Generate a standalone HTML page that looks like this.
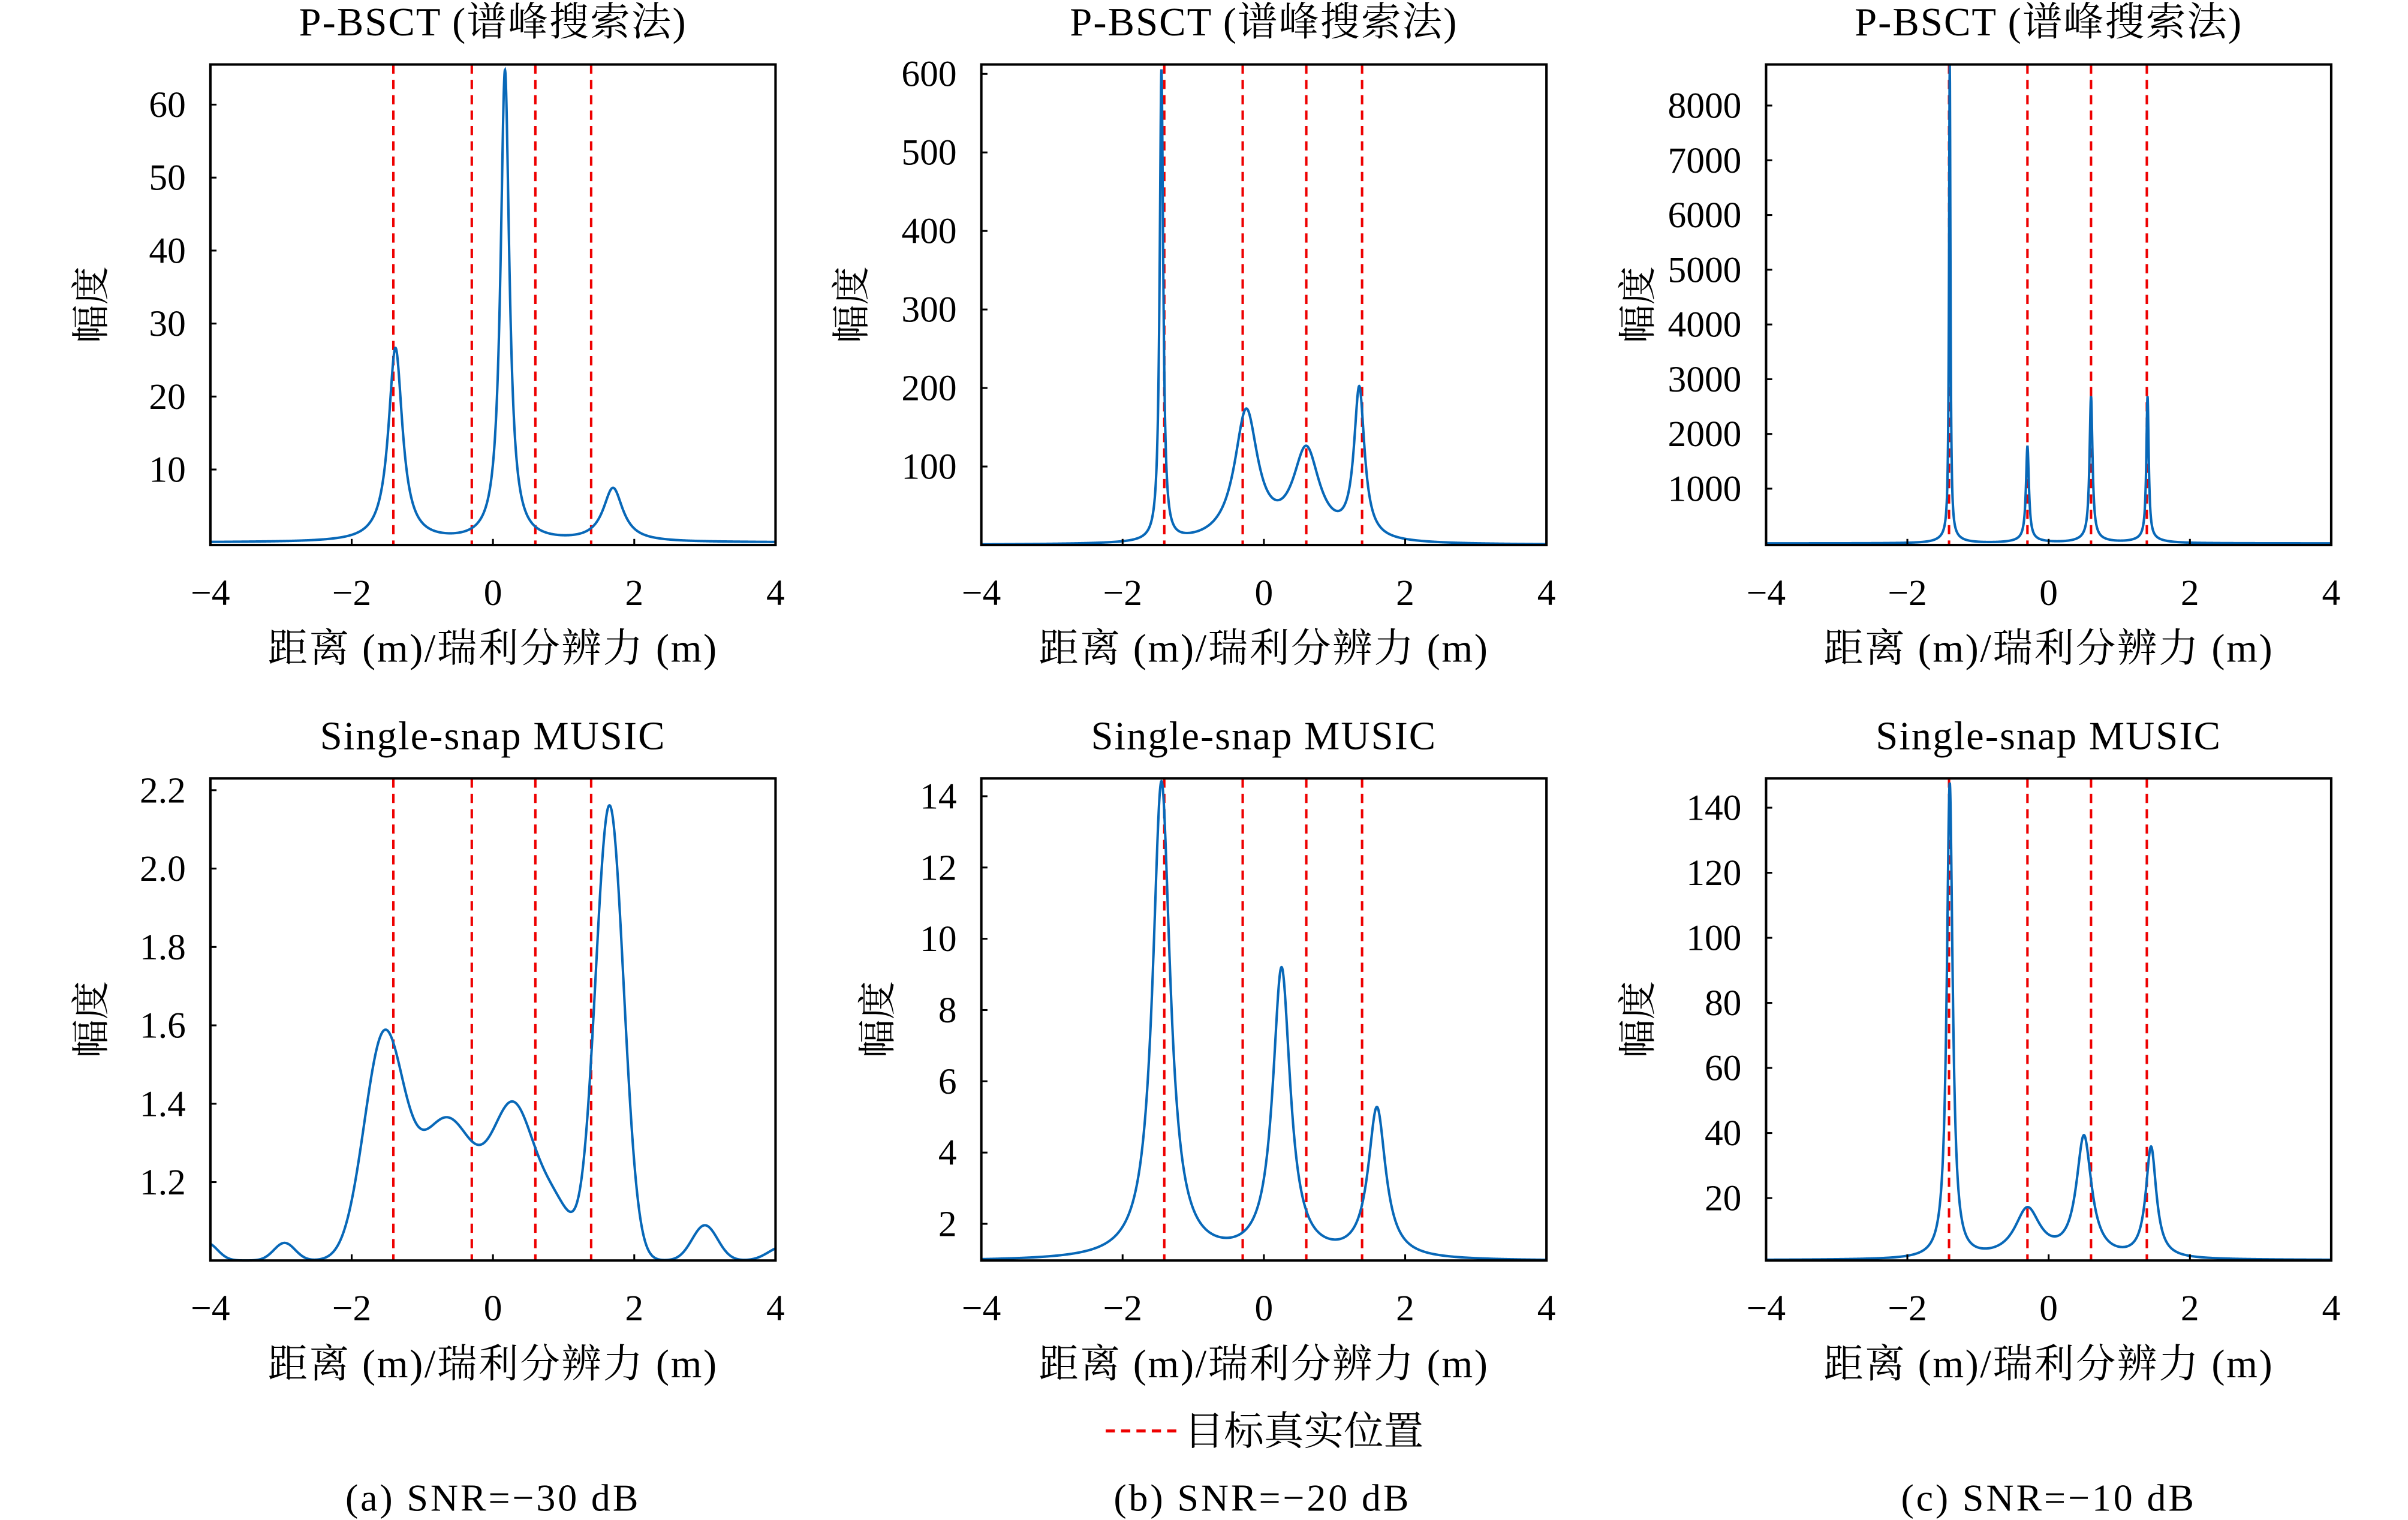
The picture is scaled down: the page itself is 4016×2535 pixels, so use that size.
<!DOCTYPE html>
<html><head><meta charset="utf-8"><style>html,body{margin:0;padding:0;background:#fff}svg{display:block}</style></head>
<body>
<svg id="s" xmlns="http://www.w3.org/2000/svg" width="4016" height="2535" viewBox="0 0 1568 990" preserveAspectRatio="none" font-family="'Liberation Serif','Noto Serif CJK SC',serif">
<rect width="1568" height="990" fill="#fff"/>
<g id="g"></g>
<line x1="720" y1="932" x2="766" y2="932" stroke="#e00" stroke-width="2" stroke-dasharray="6,4"/>
<text x="771" y="941" font-size="26">目标真实位置</text>
<text x="321" y="984" font-size="25" letter-spacing="1.5" text-anchor="middle">(a) SNR=−30 dB</text>
<text x="822" y="984" font-size="25" letter-spacing="1.5" text-anchor="middle">(b) SNR=−20 dB</text>
<text x="1334" y="984" font-size="25" letter-spacing="1.5" text-anchor="middle">(c) SNR=−10 dB</text>
</svg>
<script>
const L=(c,h,w)=>x=>h/(1+((x-c)/w)**2);
const G=(c,h,w)=>x=>h*Math.exp(-0.5*((x-c)/w)**2);
const P=[
 {x0:137,y0:42,y1:355,v0:-0.35,v1:65.5,yl:69,ticks:[10,20,30,40,50,60],title:"P-BSCT (谱峰搜索法)",
  f:[L(-1.38,26.5,0.12),L(0.17,64.5,0.075),L(1.7,7.3,0.17)],base:0},
 {x0:639,y0:42,y1:355,v0:0,v1:612,yl:76,ticks:[100,200,300,400,500,600],title:"P-BSCT (谱峰搜索法)",
  f:[L(-1.45,600,0.03),L(-0.25,165,0.2),L(0.6,115,0.23),L(1.35,190,0.09)],base:0},
 {x0:1150,y0:42,y1:355,v0:-30,v1:8750,yl:75,ticks:[1000,2000,3000,4000,5000,6000,7000,8000],title:"P-BSCT (谱峰搜索法)",
  f:[L(-1.4,8700,0.012),L(-0.3,1700,0.025),L(0.6,2600,0.025),L(1.4,2600,0.02),L(-1.4,120,0.15),L(-0.3,60,0.2),L(0.6,80,0.2),L(1.4,80,0.2)],base:0},
 {x0:137,y0:507,y1:821,v0:1.0,v1:2.23,yl:69,ticks:[1.2,1.4,1.6,1.8,2.0,2.2],title:"Single-snap MUSIC",dec:1,
  f:[G(-1.55,0.55,0.28),G(-0.65,0.36,0.42),G(0.3,0.37,0.3),G(0.9,0.12,0.25),G(1.65,1.16,0.2),G(-2.95,0.045,0.15),G(3.0,0.09,0.18),G(-4.05,0.045,0.15),G(4.1,0.035,0.2)],base:1.0},
 {x0:639,y0:507,y1:821,v0:0.97,v1:14.5,yl:59,ticks:[2,4,6,8,10,12,14],title:"Single-snap MUSIC",
  f:[L(-1.45,13.4,0.15),L(0.25,8.1,0.15),L(1.6,4.2,0.15)],base:0.95},
 {x0:1150,y0:507,y1:821,v0:0.8,v1:149,yl:75,ticks:[20,40,60,80,100,120,140],title:"Single-snap MUSIC",
  f:[L(-1.4,146,0.05),L(-0.3,15,0.22),L(0.5,37,0.13),L(1.45,34,0.09)],base:0.9}
];
const W=368,tg=[-1.41,-0.3,0.6,1.39];
let h="";
for(const p of P){
 const X=v=>p.x0+(v+4)/8*W, Y=v=>p.y1-(v-p.v0)/(p.v1-p.v0)*(p.y1-p.y0);
 const cx=p.x0+W/2;
 h+=`<text x="${cx}" y="${p.y0-19}" font-size="26" letter-spacing="0.8" text-anchor="middle">${p.title}</text>`;
 for(const t of tg){h+=`<line x1="${X(t)}" y1="${p.y0}" x2="${X(t)}" y2="${p.y1}" stroke="#e00" stroke-width="1.6" stroke-dasharray="6,4"/>`;}
 let d="";
 for(let i=0;i<=3000;i++){const x=-4+8*i/3000;let v=p.base;for(const f of p.f)v+=f(x);let y=Math.min(p.y1,Math.max(p.y0,Y(v)));d+=(i?"L":"M")+X(x).toFixed(2)+" "+y.toFixed(2);}
 h+=`<path d="${d}" fill="none" stroke="#0868b8" stroke-width="1.6"/>`;
 h+=`<rect x="${p.x0}" y="${p.y0}" width="${W}" height="${p.y1-p.y0}" fill="none" stroke="#000" stroke-width="1.6"/>`;
 for(const t of [-4,-2,0,2,4]){const x=X(t);h+=`<line x1="${x}" y1="${p.y1}" x2="${x}" y2="${p.y1-4}" stroke="#000" stroke-width="1.2"/><text x="${x}" y="${p.y1+39}" font-size="24" text-anchor="middle">${t<0?"−"+(-t):t}</text>`;}
 for(const t of p.ticks){const y=Y(t);h+=`<line x1="${p.x0}" y1="${y}" x2="${p.x0+4}" y2="${y}" stroke="#000" stroke-width="1.2"/><text x="${p.x0-16}" y="${y+8}" font-size="24" text-anchor="end">${p.dec?t.toFixed(1):t}</text>`;}
 h+=`<text transform="translate(${p.x0-p.yl},${(p.y0+p.y1)/2}) rotate(-90)" font-size="25" text-anchor="middle">幅度</text>`;
 h+=`<text x="${cx}" y="${p.y1+76}" font-size="26" letter-spacing="1" text-anchor="middle">距离 (m)/瑞利分辨力 (m)</text>`;
}
document.getElementById("g").innerHTML=h;
</script>
</body></html>
